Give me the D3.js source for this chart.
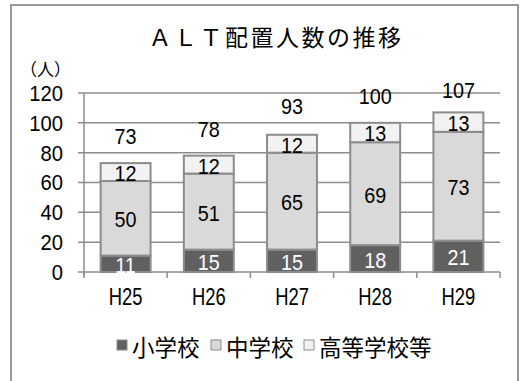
<!DOCTYPE html>
<html>
<head>
<meta charset="utf-8">
<script src="https://cdn.jsdelivr.net/npm/d3@7"></script>
<style>
  body { margin: 0; background: #fff; }
  svg text { font-family: "Liberation Sans", Arial, sans-serif; }
  svg text.jp { font-family: "Noto Sans CJK JP", sans-serif; }
</style>
</head>
<body>
<svg width="529" height="381"></svg>
<script>
const years = ["H25", "H26", "H27", "H28", "H29"];
const elementary = [11, 15, 15, 18, 21];
const juniorHigh = [50, 51, 65, 69, 73];
const highSchool = [12, 12, 12, 13, 13];
const totals = [73, 78, 93, 100, 107];
const seriesNames = ["小学校", "中学校", "高等学校等"];
const yTicks = [0, 20, 40, 60, 80, 100, 120];

const colors = ["#606060", "#d9d9d9", "#f2f2f2"];
const labelColors = ["#fff", "#000", "#000"];
const numSize = 21;

const svg = d3.select("svg");

// outer frame
svg.append("rect")
  .attr("x", 11).attr("y", 5)
  .attr("width", 507).attr("height", 420)
  .attr("fill", "none")
  .attr("stroke", "#999")
  .attr("stroke-width", 2);

const plotLeft = 84, plotRight = 500, plotTop = 93, plotBottom = 272;

const x = d3.scaleBand().domain(years).range([plotLeft, plotRight]).paddingInner(0.4).paddingOuter(0.2);
const xTickScale = d3.scaleLinear().domain([0, years.length]).range([plotLeft, plotRight]);
const y = d3.scaleLinear().domain([0, 120]).range([plotBottom, plotTop]);

// narrow-ish text: put it in a group and squeeze horizontally
function narrowText(parent, px, py, str, opts) {
  const g = parent.append("g")
    .attr("transform", `translate(${px},${py}) scale(${opts.sx || 0.9},1)`);
  return g.append("text")
    .attr("text-anchor", opts.anchor || "middle")
    .attr("dy", "0.36em")
    .attr("font-size", opts.size || numSize)
    .attr("fill", opts.fill || "#000")
    .text(str);
}

// gridlines
svg.append("g")
  .selectAll("line")
  .data(yTicks)
  .enter().append("line")
  .attr("x1", plotLeft - 6).attr("x2", plotRight)
  .attr("y1", d => y(d)).attr("y2", d => y(d))
  .attr("stroke", "#8c8c8c")
  .attr("stroke-width", 1.5);

// y labels
const yLab = svg.append("g");
yTicks.forEach(t => narrowText(yLab, 63, y(t), t, { anchor: "end", size: 22, sx: 0.92 }));

// axis lines
svg.append("line")
  .attr("x1", plotLeft).attr("x2", plotLeft)
  .attr("y1", plotTop).attr("y2", plotBottom + 4)
  .attr("stroke", "#8c8c8c").attr("stroke-width", 1.5);

svg.append("g")
  .selectAll("line")
  .data(d3.range(years.length + 1))
  .enter().append("line")
  .attr("x1", d => xTickScale(d)).attr("x2", d => xTickScale(d))
  .attr("y1", plotBottom).attr("y2", plotBottom + 6)
  .attr("stroke", "#8c8c8c").attr("stroke-width", 1.5);

// stacked bars
const rows = years.map((yr, i) => ({ year: yr, values: [elementary[i], juniorHigh[i], highSchool[i]] }));
const segs = rows.flatMap(r => {
  let acc = 0;
  return r.values.map((v, k) => {
    const seg = { year: r.year, k: k, v: v, y0: acc, y1: acc + v };
    acc += v;
    return seg;
  });
});

svg.append("g")
  .selectAll("rect")
  .data(segs)
  .enter().append("rect")
  .attr("x", d => x(d.year))
  .attr("width", x.bandwidth())
  .attr("y", d => y(d.y1))
  .attr("height", d => y(d.y0) - y(d.y1))
  .attr("fill", d => colors[d.k])
  .attr("stroke", "#8c8c8c")
  .attr("stroke-width", 2);

const segLab = svg.append("g");
segs.forEach(d => {
  narrowText(segLab, x(d.year) + x.bandwidth() / 2, (y(d.y0) + y(d.y1)) / 2 + 1, d.v,
    { size: 22, sx: 0.9, fill: labelColors[d.k] });
});

// totals
const totLab = svg.append("g");
years.forEach((yr, i) => {
  const ty = Math.max(y(totals[i]) - 27, 90);
  narrowText(totLab, x(yr) + x.bandwidth() / 2, ty, totals[i], { size: 22, sx: 0.9 });
});

// x labels
const xLab = svg.append("g");
years.forEach(yr => narrowText(xLab, x(yr) + x.bandwidth() / 2, 297, yr, { size: 23, sx: 0.8 }));

// title
svg.append("text")
  .attr("class", "jp")
  .attr("x", 276)
  .attr("y", 46)
  .attr("text-anchor", "middle")
  .attr("font-size", 23)
  .attr("letter-spacing", 2.5)
  .text("ＡＬＴ配置人数の推移");

svg.append("text")
  .attr("class", "jp")
  .attr("x", 20)
  .attr("y", 76)
  .attr("font-size", 17)
  .text("（人）");

// legend
const legend = svg.append("g").attr("transform", "translate(0,345)");
const legendX = [117, 211, 304];
seriesNames.forEach((name, i) => {
  legend.append("rect")
    .attr("x", legendX[i]).attr("y", -5)
    .attr("width", 10).attr("height", 10)
    .attr("fill", colors[i])
    .attr("stroke", "#8c8c8c").attr("stroke-width", 1);
  legend.append("text")
    .attr("class", "jp")
    .attr("x", legendX[i] + 15)
    .attr("y", 3)
    .attr("dy", "0.36em")
    .attr("font-size", 22.5)
    .text(name);
});
</script>
</body>
</html>
